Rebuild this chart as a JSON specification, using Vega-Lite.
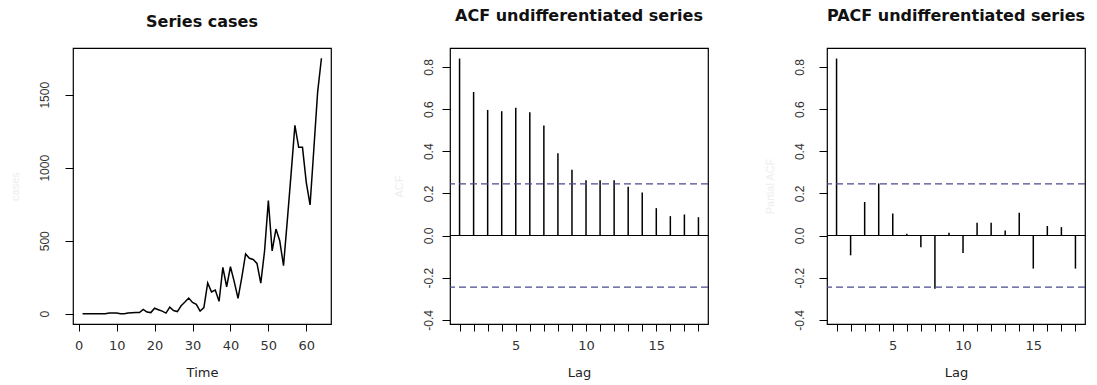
{
  "$schema": "https://vega.github.io/schema/vega-lite/v6.json",
  "background": "white",
  "padding": {"left": 8, "top": 7, "right": 5, "bottom": 0},
  "spacing": 119,
  "bounds": "flush",
  "datasets": {
    "series": [
      {"t": 1, "cases": 0}, {"t": 2, "cases": 0}, {"t": 3, "cases": 0}, {"t": 4, "cases": 0},
      {"t": 5, "cases": 0}, {"t": 6, "cases": 0}, {"t": 7, "cases": 1}, {"t": 8, "cases": 6},
      {"t": 9, "cases": 6}, {"t": 10, "cases": 6}, {"t": 11, "cases": 1}, {"t": 12, "cases": 1},
      {"t": 13, "cases": 6}, {"t": 14, "cases": 7}, {"t": 15, "cases": 8}, {"t": 16, "cases": 9},
      {"t": 17, "cases": 30}, {"t": 18, "cases": 12}, {"t": 19, "cases": 8}, {"t": 20, "cases": 38},
      {"t": 21, "cases": 28}, {"t": 22, "cases": 18}, {"t": 23, "cases": 5}, {"t": 24, "cases": 45},
      {"t": 25, "cases": 22}, {"t": 26, "cases": 15}, {"t": 27, "cases": 55}, {"t": 28, "cases": 80},
      {"t": 29, "cases": 108}, {"t": 30, "cases": 78}, {"t": 31, "cases": 65}, {"t": 32, "cases": 18},
      {"t": 33, "cases": 42}, {"t": 34, "cases": 211}, {"t": 35, "cases": 150}, {"t": 36, "cases": 162},
      {"t": 37, "cases": 85}, {"t": 38, "cases": 318}, {"t": 39, "cases": 185}, {"t": 40, "cases": 322},
      {"t": 41, "cases": 220}, {"t": 42, "cases": 105}, {"t": 43, "cases": 250}, {"t": 44, "cases": 410},
      {"t": 45, "cases": 380}, {"t": 46, "cases": 372}, {"t": 47, "cases": 345}, {"t": 48, "cases": 210},
      {"t": 49, "cases": 430}, {"t": 50, "cases": 775}, {"t": 51, "cases": 430}, {"t": 52, "cases": 580},
      {"t": 53, "cases": 500}, {"t": 54, "cases": 330}, {"t": 55, "cases": 640}, {"t": 56, "cases": 960},
      {"t": 57, "cases": 1290}, {"t": 58, "cases": 1140}, {"t": 59, "cases": 1140}, {"t": 60, "cases": 900},
      {"t": 61, "cases": 745}, {"t": 62, "cases": 1130}, {"t": 63, "cases": 1520}, {"t": 64, "cases": 1750}
    ],
    "acf": [
      {"lag": 1, "acf": 0.840}, {"lag": 2, "acf": 0.681}, {"lag": 3, "acf": 0.596},
      {"lag": 4, "acf": 0.590}, {"lag": 5, "acf": 0.606}, {"lag": 6, "acf": 0.585},
      {"lag": 7, "acf": 0.522}, {"lag": 8, "acf": 0.391}, {"lag": 9, "acf": 0.312},
      {"lag": 10, "acf": 0.262}, {"lag": 11, "acf": 0.262}, {"lag": 12, "acf": 0.262},
      {"lag": 13, "acf": 0.232}, {"lag": 14, "acf": 0.204}, {"lag": 15, "acf": 0.130},
      {"lag": 16, "acf": 0.092}, {"lag": 17, "acf": 0.100}, {"lag": 18, "acf": 0.087}
    ],
    "pacf": [
      {"lag": 1, "pacf": 0.840}, {"lag": 2, "pacf": -0.094}, {"lag": 3, "pacf": 0.159},
      {"lag": 4, "pacf": 0.247}, {"lag": 5, "pacf": 0.105}, {"lag": 6, "pacf": 0.008},
      {"lag": 7, "pacf": -0.056}, {"lag": 8, "pacf": -0.253}, {"lag": 9, "pacf": 0.013},
      {"lag": 10, "pacf": -0.083}, {"lag": 11, "pacf": 0.060}, {"lag": 12, "pacf": 0.060},
      {"lag": 13, "pacf": 0.024}, {"lag": 14, "pacf": 0.108}, {"lag": 15, "pacf": -0.157},
      {"lag": 16, "pacf": 0.045}, {"lag": 17, "pacf": 0.040}, {"lag": 18, "pacf": -0.157}
    ],
    "ci": [{"ci": 0.245}, {"ci": -0.245}],
    "zero": [{"level": 0}]
  },
  "config": {
    "view": {"stroke": "#000", "strokeWidth": 1.2},
    "title": {"font": "DejaVu Sans", "fontSize": 16, "fontWeight": "bold", "color": "#111", "anchor": "middle"},
    "axis": {
      "grid": false, "domain": false, "tickColor": "#000", "tickWidth": 1,
      "labelColor": "#333", "titleColor": "#222", "titleFont": "DejaVu Sans",
      "titleFontSize": 13, "titleFontWeight": "normal"
    },
    "axisX": {"labelFont": "DejaVu Sans", "labelFontSize": 13, "tickSize": 7, "labelPadding": 8, "titlePadding": 14},
    "axisY": {
      "labelFont": "Liberation Sans", "labelFontSize": 12, "labelAngle": 270,
      "labelAlign": "center", "labelBaseline": "bottom", "tickSize": 8,
      "titleColor": "#eeeeee", "titleFont": "Liberation Sans", "titleFontSize": 11, "titlePadding": 18
    }
  },
  "hconcat": [
    {
      "width": 258, "height": 276,
      "title": {"text": "Series cases", "offset": 18},
      "data": {"name": "series"},
      "mark": {"type": "line", "color": "#000", "strokeWidth": 1.5},
      "encoding": {
        "x": {"field": "t", "type": "quantitative", "scale": {"domain": [-1.52, 66.52], "nice": false, "zero": false},
              "axis": {"values": [0, 10, 20, 30, 40, 50, 60], "title": "Time"}},
        "y": {"field": "cases", "type": "quantitative", "scale": {"domain": [-70, 1820], "nice": false},
              "axis": {"values": [0, 500, 1000, 1500], "format": "d", "title": "cases", "labelPadding": 14}}
      }
    },
    {
      "width": 258, "height": 276,
      "title": {"text": "ACF undifferentiated series", "offset": 24},
      "layer": [
        {
          "data": {"name": "acf"},
          "mark": {"type": "rule", "color": "#000", "strokeWidth": 1.5},
          "encoding": {
            "x": {"field": "lag", "type": "quantitative", "scale": {"domain": [0.32, 18.68], "nice": false, "zero": false},
                  "axis": {"values": [1,2,3,4,5,6,7,8,9,10,11,12,13,14,15,16,17,18], "labelExpr": "datum.value % 5 == 0 ? datum.label : ''", "title": "Lag"}},
            "y": {"field": "acf", "type": "quantitative", "scale": {"domain": [-0.42, 0.89], "nice": false, "zero": false},
                  "axis": {"values": [-0.4, -0.2, 0, 0.2, 0.4, 0.6, 0.8], "labelExpr": "replace(format(datum.value, '.1f'), '\u2212', '-')", "title": "ACF", "labelPadding": 7}},
            "y2": {"datum": 0}
          }
        },
        {
          "data": {"name": "zero"},
          "mark": {"type": "rule", "color": "#000", "strokeWidth": 1.2},
          "encoding": {"y": {"field": "level", "type": "quantitative"}}
        },
        {
          "data": {"name": "ci"},
          "mark": {"type": "rule", "color": "#4a4a90", "strokeWidth": 1.2, "strokeDash": [7, 4]},
          "encoding": {"y": {"field": "ci", "type": "quantitative"}}
        }
      ]
    },
    {
      "width": 258, "height": 276,
      "title": {"text": "PACF undifferentiated series", "offset": 24},
      "layer": [
        {
          "data": {"name": "pacf"},
          "mark": {"type": "rule", "color": "#000", "strokeWidth": 1.5},
          "encoding": {
            "x": {"field": "lag", "type": "quantitative", "scale": {"domain": [0.32, 18.68], "nice": false, "zero": false},
                  "axis": {"values": [1,2,3,4,5,6,7,8,9,10,11,12,13,14,15,16,17,18], "labelExpr": "datum.value % 5 == 0 ? datum.label : ''", "title": "Lag"}},
            "y": {"field": "pacf", "type": "quantitative", "scale": {"domain": [-0.42, 0.89], "nice": false, "zero": false},
                  "axis": {"values": [-0.4, -0.2, 0, 0.2, 0.4, 0.6, 0.8], "labelExpr": "replace(format(datum.value, '.1f'), '\u2212', '-')", "title": "Partial ACF", "labelPadding": 13}},
            "y2": {"datum": 0}
          }
        },
        {
          "data": {"name": "zero"},
          "mark": {"type": "rule", "color": "#000", "strokeWidth": 1.2},
          "encoding": {"y": {"field": "level", "type": "quantitative"}}
        },
        {
          "data": {"name": "ci"},
          "mark": {"type": "rule", "color": "#4a4a90", "strokeWidth": 1.2, "strokeDash": [7, 4]},
          "encoding": {"y": {"field": "ci", "type": "quantitative"}}
        }
      ]
    }
  ]
}
